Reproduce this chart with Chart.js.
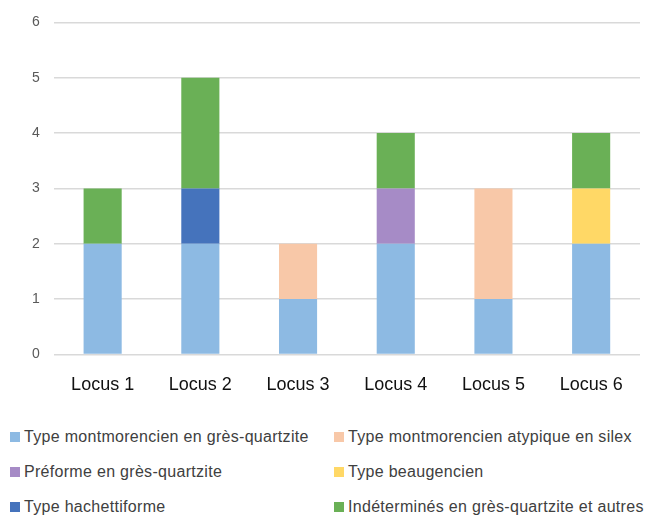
<!DOCTYPE html>
<html>
<head>
<meta charset="utf-8">
<script src="https://cdn.jsdelivr.net/npm/chart.js@4"></script>
<style>
  html, body { margin: 0; padding: 0; background: #fff; }
  #wrap { width: 648px; height: 417px; position: absolute; left: 0; top: 0; }
  #legend {
    position: absolute;
    left: 10px;
    top: 427px;
    display: grid;
    grid-template-columns: 324px 324px;
    row-gap: 15px;
    font-family: "Liberation Sans", Arial, sans-serif;
    font-size: 16px;
    letter-spacing: 0.3px;
    color: #404040;
  }
  #legend .item { display: flex; align-items: center; height: 20px; white-space: nowrap; }
  #legend .box { width: 10px; height: 10px; margin-right: 4px; flex: none; }
</style>
</head>
<body>
<div id="wrap"><canvas id="locusChart"></canvas></div>
<div id="legend"></div>
<script>
  const LOCI = ['Locus 1', 'Locus 2', 'Locus 3', 'Locus 4', 'Locus 5', 'Locus 6'];
  const Y_TICKS = [0, 1, 2, 3, 4, 5, 6];

  const montmorencienGres = [2, 2, 1, 2, 1, 2];
  const montmorencienSilex = [0, 0, 1, 0, 2, 0];
  const preformeGres = [0, 0, 0, 1, 0, 0];
  const beaugencien = [0, 0, 0, 0, 0, 1];
  const hachettiforme = [0, 1, 0, 0, 0, 0];
  const indetermines = [1, 2, 0, 1, 0, 1];

  const series = [
    { label: 'Type montmorencien en grès-quartzite', data: montmorencienGres, color: '#8DBAE3' },
    { label: 'Type montmorencien atypique en silex', data: montmorencienSilex, color: '#F8C8A8' },
    { label: 'Préforme en grès-quartzite', data: preformeGres, color: '#A68BC6' },
    { label: 'Type beaugencien', data: beaugencien, color: '#FFD866' },
    { label: 'Type hachettiforme', data: hachettiforme, color: '#4573BC' },
    { label: 'Indéterminés en grès-quartzite et autres', data: indetermines, color: '#6AB056' }
  ];

  // two-column legend built from the chart's datasets
  const htmlLegend = {
    id: 'htmlLegend',
    afterUpdate(chart) {
      const el = document.getElementById('legend');
      el.innerHTML = chart.data.datasets.map(ds =>
        `<div class="item"><span class="box" style="background:${ds.backgroundColor}"></span>${ds.label}</div>`
      ).join('');
    }
  };

  new Chart(document.getElementById('locusChart'), {
    type: 'bar',
    data: {
      labels: LOCI,
      datasets: series.map(s => ({
        label: s.label,
        data: s.data,
        backgroundColor: s.color,
        barPercentage: 0.39,
        categoryPercentage: 1,
        borderWidth: 0
      }))
    },
    options: {
      responsive: true,
      maintainAspectRatio: false,
      animation: false,
      layout: { padding: { top: 12, right: 8, left: 18, bottom: 9 } },
      plugins: {
        legend: { display: false },
        tooltip: { enabled: false }
      },
      scales: {
        x: {
          stacked: true,
          grid: { display: false },
          border: { display: false },
          ticks: {
            padding: 12,
            color: '#111',
            font: { family: '"Liberation Sans", Arial, sans-serif', size: 18 }
          }
        },
        y: {
          stacked: true,
          min: Y_TICKS[0],
          max: Y_TICKS[Y_TICKS.length - 1],
          afterBuildTicks: axis => { axis.ticks = Y_TICKS.map(v => ({ value: v })); },
          grid: { color: '#d9d9d9', lineWidth: 1.5, drawTicks: false },
          border: { display: false },
          ticks: {
            padding: 14,
            color: '#595959',
            font: { family: '"Liberation Sans", Arial, sans-serif', size: 14 }
          }
        }
      }
    },
    plugins: [htmlLegend]
  });
</script>
</body>
</html>
